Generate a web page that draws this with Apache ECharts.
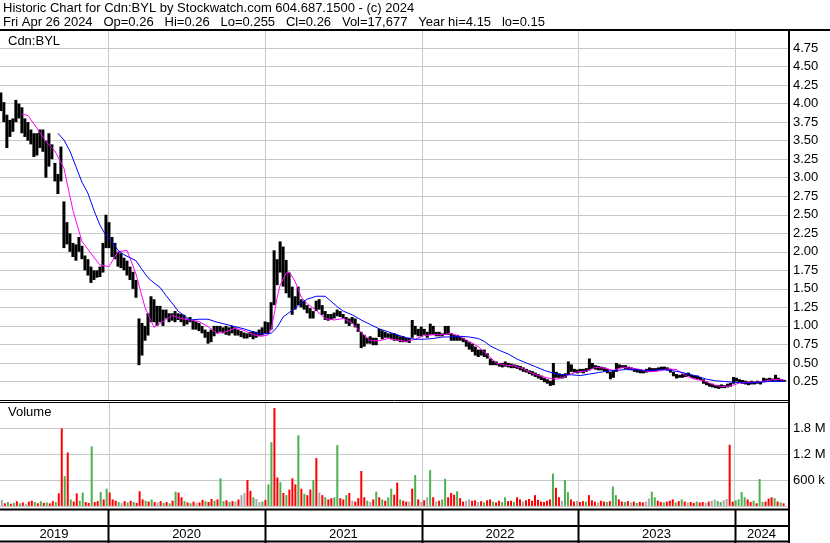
<!DOCTYPE html>
<html><head><meta charset="utf-8">
<script src="https://cdn.jsdelivr.net/npm/echarts@6/dist/echarts.min.js"></script>
<style>html,body{margin:0;padding:0;background:#fff}#c{width:830px;height:543px}</style>
</head><body><div id="c"></div>
<script>
// ---------- DATA (weekly) ----------
const headerLine1 = 'Historic Chart for Cdn:BYL by Stockwatch.com 604.687.1500 - (c) 2024';
const headerLine2 = 'Fri Apr 26 2024   Op=0.26   Hi=0.26   Lo=0.255   Cl=0.26   Vol=17,677   Year hi=4.15   lo=0.15';
const symbolLabel = 'Cdn:BYL';
const volumeLabel = 'Volume';
const firstWeek = [2019, 3, 26];          // week 0 = 26 Apr 2019
const axisStart = [2019, 3, 24];
const axisEnd = [2024, 4, 4];
const years = [2019, 2020, 2021, 2022, 2023, 2024];

const weekHigh = [
4.15,4.02,3.85,3.78,3.8,4.05,4.0,3.95,3.8,3.75,
3.65,3.6,3.6,3.65,3.65,3.5,3.6,3.45,3.2,3.05,
3.42,2.68,2.4,2.25,2.12,2.1,2.2,2.08,1.95,1.9,
1.8,1.75,1.75,1.8,2.12,2.5,2.4,2.2,2.12,2.0,
1.98,1.92,1.88,1.8,1.73,1.62,1.1,1.04,1.0,1.17,
1.4,1.36,1.27,1.27,1.22,1.22,1.17,1.17,1.2,1.17,
1.16,1.15,1.1,1.12,1.08,1.06,1.04,1.0,0.95,0.92,
0.95,1.0,1.0,1.0,0.98,1.0,0.98,1.0,0.98,0.95,
0.93,0.91,0.9,0.92,0.93,0.92,0.95,0.98,1.06,1.05,
1.32,2.02,1.9,2.14,2.07,1.89,1.72,1.53,1.4,1.53,
1.36,1.34,1.28,1.24,1.2,1.34,1.36,1.28,1.2,1.16,
1.16,1.18,1.22,1.2,1.16,1.12,1.1,1.12,1.1,1.03,
0.92,0.88,0.84,0.86,0.84,0.84,0.96,0.94,0.92,0.9,
0.9,0.9,0.88,0.86,0.86,0.84,0.84,1.08,1.0,0.96,
0.99,0.96,0.92,1.03,1.0,0.92,0.92,0.9,1.0,1.0,
0.9,0.88,0.88,0.86,0.84,0.81,0.78,0.76,0.72,0.68,
0.68,0.68,0.63,0.56,0.53,0.52,0.5,0.5,0.52,0.5,
0.49,0.48,0.47,0.46,0.44,0.42,0.4,0.39,0.37,0.35,
0.33,0.3,0.28,0.26,0.5,0.38,0.36,0.35,0.36,0.52,
0.48,0.42,0.41,0.42,0.42,0.43,0.56,0.5,0.47,0.46,
0.45,0.44,0.42,0.38,0.4,0.5,0.48,0.47,0.47,0.45,
0.44,0.43,0.42,0.41,0.4,0.42,0.44,0.43,0.43,0.44,
0.45,0.45,0.44,0.42,0.38,0.35,0.34,0.35,0.36,0.37,
0.34,0.33,0.33,0.31,0.28,0.25,0.23,0.22,0.2,0.2,
0.21,0.2,0.22,0.23,0.31,0.3,0.28,0.27,0.26,0.25,
0.26,0.25,0.26,0.25,0.3,0.29,0.3,0.29,0.34,0.3,
0.28,0.27];

const weekLow = [
3.9,3.75,3.4,3.55,3.62,3.75,3.8,3.6,3.55,3.5,
3.45,3.28,3.3,3.4,3.35,3.0,3.15,3.25,2.95,2.78,
2.95,2.05,2.1,2.0,1.93,1.88,2.0,1.9,1.75,1.68,
1.58,1.62,1.65,1.66,1.72,2.05,2.05,1.93,1.9,1.8,
1.78,1.75,1.68,1.62,1.5,1.38,0.47,0.6,0.8,0.87,
1.05,1.05,1.0,1.05,1.0,1.1,1.05,1.07,1.05,1.08,
1.05,1.0,1.02,1.05,0.95,0.95,0.93,0.9,0.84,0.76,
0.78,0.86,0.9,0.92,0.9,0.88,0.87,0.9,0.87,0.87,
0.85,0.83,0.83,0.85,0.82,0.84,0.86,0.87,0.9,0.9,
0.95,1.28,1.55,1.72,1.53,1.44,1.38,1.15,1.22,1.28,
1.25,1.22,1.17,1.1,1.1,1.2,1.22,1.15,1.08,1.07,
1.08,1.1,1.13,1.12,1.1,1.03,1.0,1.03,0.98,0.92,
0.7,0.72,0.76,0.76,0.74,0.74,0.85,0.82,0.84,0.84,
0.82,0.8,0.8,0.78,0.78,0.78,0.77,0.84,0.88,0.86,
0.86,0.88,0.84,0.88,0.88,0.86,0.86,0.86,0.88,0.88,
0.8,0.8,0.8,0.8,0.78,0.72,0.68,0.65,0.6,0.58,
0.6,0.58,0.56,0.47,0.47,0.47,0.45,0.44,0.45,0.44,
0.43,0.43,0.42,0.4,0.38,0.37,0.35,0.33,0.31,0.29,
0.27,0.24,0.22,0.19,0.2,0.3,0.3,0.29,0.3,0.34,
0.38,0.37,0.36,0.37,0.36,0.38,0.4,0.42,0.41,0.4,
0.4,0.39,0.36,0.28,0.3,0.38,0.43,0.43,0.42,0.41,
0.4,0.38,0.37,0.36,0.36,0.37,0.38,0.38,0.39,0.4,
0.41,0.41,0.4,0.37,0.32,0.29,0.3,0.3,0.31,0.32,
0.3,0.29,0.28,0.27,0.22,0.2,0.18,0.17,0.16,0.15,
0.16,0.16,0.17,0.18,0.22,0.25,0.24,0.22,0.21,0.2,
0.21,0.21,0.22,0.21,0.24,0.25,0.25,0.25,0.26,0.25,
0.25,0.25];

const pinkWeeks = [7,9,12,15,18,21,24,27,30,33,36,39,42,45,48,51,54,57,60,63,66,69,72,75,78,81,84,87,89,90,91,92,93,95,96,98,99,100,102,105,108,111,114,117,120,123,126,129,132,135,138,141,144,147,150,153,156,159,162,165,168,171,174,177,180,183,185,187,189,192,195,198,201,204,207,210,213,216,219,222,225,228,231,234,237,240,243,246,249,252,255,258,261];
const pinkMA = [3.86,3.84,3.67,3.49,3.36,3.13,2.56,2.14,1.98,1.82,1.8,2.0,2.02,1.7,1.25,0.98,1.06,1.14,1.1,1.08,1.06,0.99,0.9,0.92,0.97,0.94,0.88,0.86,0.88,0.95,1.15,1.38,1.55,1.71,1.73,1.6,1.5,1.39,1.3,1.21,1.1,1.08,1.1,1.04,0.91,0.8,0.8,0.83,0.81,0.79,0.82,0.87,0.88,0.88,0.9,0.85,0.79,0.72,0.61,0.5,0.47,0.46,0.42,0.36,0.32,0.29,0.28,0.3,0.34,0.38,0.39,0.44,0.43,0.4,0.44,0.43,0.41,0.38,0.39,0.42,0.41,0.33,0.28,0.26,0.21,0.18,0.19,0.23,0.24,0.24,0.26,0.28,0.27];

const blueWeeks = [19,21,23,25,27,29,31,33,35,37,39,41,43,45,47,49,51,53,55,57,59,61,63,66,69,72,75,78,81,84,87,90,92,94,96,98,100,102,105,108,110,112,114,117,120,123,126,129,132,135,138,141,144,147,150,153,156,159,161,163,166,169,172,175,178,181,184,187,190,193,196,199,202,205,208,211,214,217,220,223,226,229,232,235,238,241,244,247,250,253,256,259,261];
const blueMA = [3.6,3.51,3.36,3.15,2.94,2.79,2.56,2.36,2.22,2.14,2.02,1.96,1.92,1.88,1.76,1.65,1.58,1.52,1.41,1.31,1.2,1.14,1.08,1.09,1.09,1.05,1.02,0.99,0.96,0.92,0.89,0.9,0.98,1.12,1.18,1.24,1.31,1.36,1.4,1.4,1.33,1.26,1.2,1.15,1.08,1.02,0.96,0.92,0.88,0.84,0.82,0.82,0.83,0.85,0.85,0.86,0.85,0.83,0.79,0.73,0.67,0.62,0.55,0.5,0.45,0.4,0.36,0.34,0.34,0.33,0.35,0.37,0.39,0.4,0.41,0.41,0.4,0.4,0.41,0.4,0.38,0.35,0.32,0.28,0.26,0.25,0.24,0.23,0.23,0.24,0.25,0.25,0.25];

// volume in thousands, peak day of each week; direction 1 up, -1 down, 0 unchanged
const volK = [
140,60,90,50,70,110,60,80,50,100,
120,90,60,110,70,80,60,110,90,290,
1800,690,1240,150,100,290,120,310,90,70,
1380,90,110,320,150,400,310,150,120,90,
60,110,80,120,90,70,340,150,120,100,
150,90,80,110,70,90,60,120,330,310,
200,110,80,60,100,70,80,140,110,90,
160,120,150,640,110,130,90,110,100,150,
250,300,600,350,200,160,90,100,140,500,
1480,2270,660,550,300,250,380,640,500,1640,
400,280,250,380,600,1110,310,250,200,150,
180,200,1410,180,150,250,300,120,100,180,
810,200,120,90,150,330,200,150,120,200,
400,260,540,150,120,100,100,400,715,150,
90,130,200,830,200,100,120,150,630,200,
300,260,340,180,100,120,150,120,130,90,
110,80,130,150,100,80,120,90,200,110,
120,90,200,150,100,130,160,120,250,140,
100,90,120,150,750,420,200,120,600,320,
150,100,120,90,110,100,250,130,100,80,
120,100,90,110,450,250,150,100,90,110,
80,100,70,90,80,100,170,330,200,120,
90,80,100,120,150,80,110,150,100,80,
90,70,100,80,90,70,100,120,150,110,
90,130,160,1420,100,130,150,320,200,150,
90,120,60,625,90,100,170,200,180,100,
80,60];
const volDir = [
0,-1,1,-1,1,-1,1,-1,0,-1,
-1,1,-1,1,-1,1,-1,-1,1,-1,
-1,1,-1,1,-1,-1,1,1,-1,-1,
1,-1,-1,1,-1,1,-1,-1,-1,1,
0,-1,1,-1,1,-1,-1,-1,1,-1,
1,-1,0,-1,1,-1,1,-1,1,-1,
-1,1,-1,1,-1,0,-1,-1,1,-1,
-1,1,-1,1,1,-1,1,-1,0,-1,
0,0,-1,-1,1,0,0,1,-1,1,
1,-1,-1,1,-1,1,-1,-1,-1,1,
-1,1,-1,-1,1,-1,0,-1,1,-1,
-1,1,1,-1,-1,1,-1,0,-1,-1,
-1,-1,1,0,-1,1,-1,1,-1,1,
1,-1,-1,1,-1,-1,0,-1,1,-1,
0,-1,0,1,-1,0,-1,1,1,-1,
-1,-1,1,-1,-1,0,0,-1,-1,0,
-1,1,-1,-1,1,-1,-1,1,1,-1,
-1,1,-1,-1,0,-1,-1,-1,-1,-1,
-1,-1,-1,-1,1,-1,-1,0,1,1,
-1,-1,0,-1,-1,1,-1,-1,-1,0,
-1,-1,1,-1,1,1,-1,-1,1,-1,
0,-1,1,-1,-1,0,0,1,1,-1,
-1,1,-1,-1,-1,1,-1,1,-1,0,
-1,-1,1,-1,-1,0,-1,0,0,1,
1,0,0,-1,-1,1,1,1,1,-1,
-1,1,-1,1,1,-1,-1,-1,1,-1,
1,-1];

// ---------- CHART ----------
const DAY = 86400000;
const t0 = Date.UTC(firstWeek[0], firstWeek[1], firstWeek[2]);
const weekTime = i => t0 + i * 7 * DAY;
const xMin = Date.UTC(axisStart[0], axisStart[1], axisStart[2]);
const xMax = Date.UTC(axisEnd[0], axisEnd[1], axisEnd[2]);
const FONT = '"Liberation Sans", Arial, sans-serif';
const GRID_C = '#c8c8c8';
const dirColor = {'1': '#4caf50', '-1': '#ff0000', '0': '#a8a8a8'};

const chart = echarts.init(document.getElementById('c'), null, {renderer: 'canvas'});

function xAxisDef(gi) {
  return {type: 'time', gridIndex: gi, min: xMin, max: xMax,
    axisLine: {show: false}, axisTick: {show: false}, axisLabel: {show: false},
    splitLine: {show: false}};
}
function yearLines(ax) {
  return {type: 'custom', xAxisIndex: ax, yAxisIndex: ax, silent: true, z: 1, clip: false,
    data: years.slice(1).map(y => [Date.UTC(y, 0, 1), 0]), encode: {x: 0, y: 1},
    renderItem(params, api) {
      const cs = params.coordSys;
      const x = Math.round(api.coord([api.value(0), 0])[0]) + 0.5;
      return {type: 'line', shape: {x1: x, y1: cs.y, x2: x, y2: cs.y + cs.height},
        style: {stroke: GRID_C, lineWidth: 1}};
    }};
}
const hline = (y, w, x2) => ({type: 'line', silent: true, z: 100,
  shape: {x1: 0, y1: y, x2: x2 || 789, y2: y}, style: {stroke: '#000', lineWidth: w}});
const txt = (s, x, y) => ({type: 'text', silent: true, z: 100, x: x, y: y,
  style: {text: s, font: '13px ' + FONT, fill: '#000', textVerticalAlign: 'top'}});

const option = {
  animation: false,
  backgroundColor: '#fff',
  grid: [
    {left: 0, top: 29.5, width: 788, height: 370.5},
    {left: 0, top: 402.5, width: 788, height: 103.4},
    {left: 0, top: 510, width: 788, height: 32}
  ],
  xAxis: [xAxisDef(0), xAxisDef(1), xAxisDef(2)],
  yAxis: [
    {type: 'value', gridIndex: 0, position: 'right', min: 0, max: 5, interval: 0.25,
      axisLine: {show: false}, axisTick: {show: false},
      axisLabel: {margin: 5, color: '#000', fontSize: 13, fontFamily: FONT, hideOverlap: false,
        showMinLabel: false, showMaxLabel: false, formatter: v => v.toFixed(2)},
      splitLine: {show: true, lineStyle: {color: GRID_C, width: 1}}},
    {type: 'value', gridIndex: 1, position: 'right', min: 0, max: 2400000, interval: 600000,
      axisLine: {show: false}, axisTick: {show: false},
      axisLabel: {margin: 5, color: '#000', fontSize: 13, fontFamily: FONT, hideOverlap: false,
        showMinLabel: false, showMaxLabel: false,
        formatter: v => v >= 1000000 ? (v / 1000000).toFixed(1) + ' M' : (v / 1000) + ' k'},
      splitLine: {show: true, lineStyle: {color: GRID_C, width: 1}}},
    {type: 'value', gridIndex: 2, min: 0, max: 1, show: false}
  ],
  series: [
    yearLines(0),
    yearLines(1),
    {type: 'custom', name: 'price', xAxisIndex: 0, yAxisIndex: 0, z: 3,
      data: weekHigh.map((h, i) => [weekTime(i), h, weekLow[i]]), encode: {x: 0, y: [1, 2]},
      renderItem(params, api) {
        const hi = api.coord([api.value(0), api.value(1)]);
        const lo = api.coord([api.value(0), api.value(2)]);
        return {type: 'rect', shape: {x: hi[0] - 1.5, y: hi[1], width: 3, height: Math.max(1.5, lo[1] - hi[1])},
          style: {fill: '#000'}};
      }},
    {type: 'line', name: 'MA short', xAxisIndex: 0, yAxisIndex: 0, z: 4, showSymbol: false,
      data: pinkWeeks.map((w, k) => [weekTime(w), pinkMA[k]]),
      lineStyle: {color: '#ff00ff', width: 1}, itemStyle: {color: '#ff00ff'}},
    {type: 'line', name: 'MA long', xAxisIndex: 0, yAxisIndex: 0, z: 4, showSymbol: false,
      data: blueWeeks.map((w, k) => [weekTime(w), blueMA[k]]),
      lineStyle: {color: '#0000ff', width: 1}, itemStyle: {color: '#0000ff'}},
    {type: 'bar', name: 'Volume', xAxisIndex: 1, yAxisIndex: 1, z: 3, barWidth: 2,
      data: volK.map((v, i) => ({value: [weekTime(i), v * 1000], itemStyle: {color: dirColor[String(volDir[i])]}}))},
    {type: 'custom', name: 'years', xAxisIndex: 2, yAxisIndex: 2, clip: false, silent: true, z: 5,
      data: years.map(y => [y, 0]), encode: {x: 0, y: 1},
      renderItem(params, api) {
        const cs = params.coordSys;
        const y = api.value(0);
        const xa = api.coord([Date.UTC(y, 0, 1), 0])[0];
        const xb = api.coord([Date.UTC(y + 1, 0, 1), 0])[0];
        const L = cs.x, R = cs.x + cs.width;
        const a = Math.max(xa, L), b = Math.min(xb, R);
        const children = [{type: 'text', x: (a + b) / 2, y: cs.y + cs.height - 7.5,
          style: {text: String(y), font: '13px ' + FONT, fill: '#000', textAlign: 'center', textVerticalAlign: 'middle'}}];
        if (xa > L) {
          const xx = Math.round(xa) + 0.5;
          children.push({type: 'line', shape: {x1: xx, y1: cs.y, x2: xx, y2: cs.y + cs.height + 1},
            style: {stroke: '#000', lineWidth: 2}});
        }
        return {type: 'group', children: children};
      }}
  ],
  graphic: [
    txt(headerLine1, 3, 2),
    txt(headerLine2, 3, 16),
    hline(30, 2, 830),
    txt(symbolLabel, 8, 35),
    hline(400.5, 1),
    hline(402.5, 1),
    txt(volumeLabel, 8, 406),
    hline(509.5, 2),
    hline(526, 2),
    hline(541.5, 2),
    {type: 'line', silent: true, z: 100, shape: {x1: 789, y1: 29, x2: 789, y2: 543},
      style: {stroke: '#000', lineWidth: 2}}
  ]
};
chart.setOption(option);
</script>
</body></html>
